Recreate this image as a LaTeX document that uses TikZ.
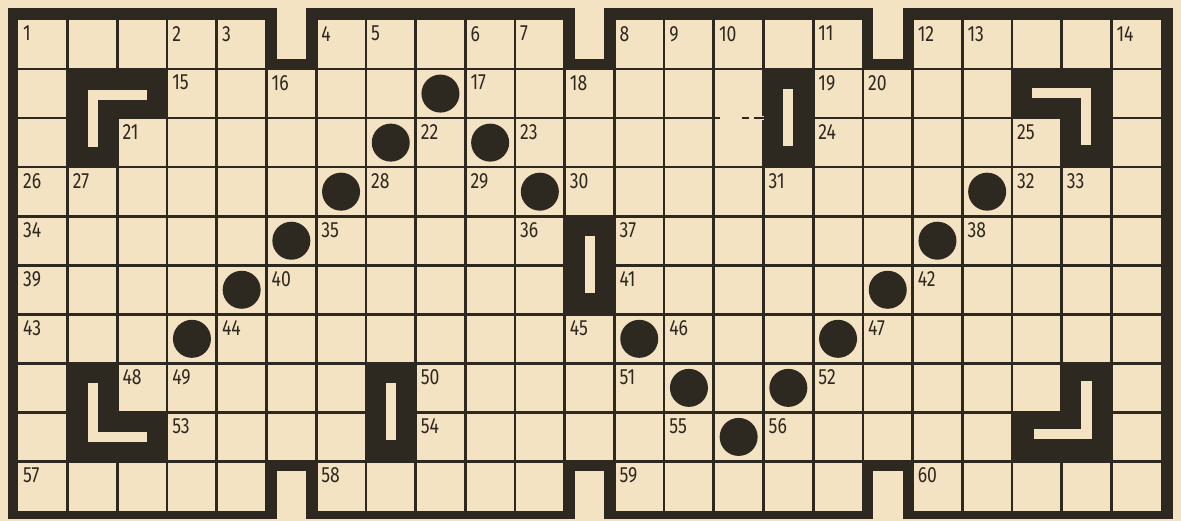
\documentclass[tikz,border=0pt]{standalone}
\usepackage{fontspec}
\newfontfamily\numfont[FakeStretch=0.8]{Fira Sans}
\definecolor{paper}{HTML}{F3E3C3}
\definecolor{ink}{HTML}{2D2820}
\tikzset{
  gridline/.style={draw=ink, line width=2.7pt},
  dot/.style={circle, fill=ink, minimum size=38pt, inner sep=0pt},
  num/.style={anchor=north west, inner sep=0pt, text=ink, font=\numfont\fontsize{22}{22}\selectfont},
}
\begin{document}
\begin{tikzpicture}[x=1pt,y=-1pt]
\fill[paper] (0,0) rectangle (1181,521);
\useasboundingbox (0,0) rectangle (1181,521);
\fill[ink] (8,8) rectangle (1173,519);
\begin{scope}[shift={(18pt,-20pt)},x=49.7pt,y=-49.05pt]
  \fill[paper] (0,0) rectangle (23,10);
  % grid
  \foreach \i in {1,...,22} \draw[gridline] (\i,0) -- (\i,10);
  \foreach \j in {1,...,9} \draw[gridline] (0,\j) -- (23,\j);
  % broken line segment
  \fill[paper] ([shift={(6pt,2pt)}]14,2) rectangle ([shift={(0pt,-2pt)}]15,2);
  \draw[gridline] ([xshift=28pt]14,2) -- ([xshift=35pt]14,2);
  \draw[gridline] ([xshift=40pt]14,2) -- ([xshift=49.7pt]14,2);
  % notches
  \foreach \c in {5,11,17} {
    \pgfmathtruncatemacro\cc{\c+1}
    \fill[ink] (\c,0) rectangle (\cc,1);
    \fill[ink] (\c,9) rectangle (\cc,10);
    \fill[paper] ([shift={(10pt,30pt)}]\c,0) rectangle ([shift={(-10pt,10pt)}]\cc,1);
    \fill[paper] ([shift={(10pt,-10pt)}]\c,9) rectangle ([shift={(-10pt,-30pt)}]\cc,10);
  }
  % corner blocks
  \fill[ink] (1,1) rectangle (3,2) (1,2) rectangle (2,3);
  \fill[paper] ([shift={(20pt,-21pt)}]1,1) rectangle ([shift={(30pt,20pt)}]1,3);
  \fill[paper] ([shift={(20pt,-21pt)}]1,1) rectangle ([shift={(-20pt,-31pt)}]3,1);
  \fill[ink] (20,1) rectangle (22,2) (21,2) rectangle (22,3);
  \fill[paper] ([shift={(20pt,-19pt)}]20,1) rectangle ([shift={(-20pt,-29pt)}]22,1);
  \fill[paper] ([shift={(-30pt,-19pt)}]22,1) rectangle ([shift={(-20pt,22pt)}]22,3);
  \fill[ink] (1,7) rectangle (2,9) (2,8) rectangle (3,9);
  \fill[paper] ([shift={(20pt,-20pt)}]1,7) rectangle ([shift={(30pt,19pt)}]1,9);
  \fill[paper] ([shift={(20pt,29pt)}]1,9) rectangle ([shift={(-20pt,19pt)}]3,9);
  \fill[ink] (21,7) rectangle (22,9) (20,8) rectangle (21,9);
  \fill[paper] ([shift={(-30pt,-18pt)}]22,7) rectangle ([shift={(-19pt,22pt)}]22,9);
  \fill[paper] ([shift={(22pt,32pt)}]20,9) rectangle ([shift={(-19pt,22pt)}]22,9);
  % bars
  \foreach \c/\r in {15/1, 11/4, 7/7} {
    \pgfmathtruncatemacro\rr{\r+2}
    \fill[ink] (\c,\r) rectangle ({\c+1},\rr);
    \fill[paper] ([shift={(-5pt,-20pt)}]\c+0.5,\r) rectangle ([shift={(5pt,21pt)}]\c+0.5,\rr);
  }
  % dots
  \foreach \c/\r [count=\k] in {8/1, 7/2, 9/2, 6/3, 10/3, 19/3, 5/4, 18/4, 4/5, 17/5, 3/6, 12/6, 16/6, 13/7, 15/7, 14/8}
    \node[dot] (d\k) at (\c+0.5,\r+0.5) {};
  % numbers
  \foreach \t/\c/\r in {1/0/0, 2/3/0, 3/4/0, 4/6/0, 5/7/0, 6/9/0, 7/10/0, 8/12/0, 9/13/0, 10/14/0, 11/16/0, 12/18/0, 13/19/0, 14/22/0,
    15/3/1, 16/5/1, 17/9/1, 18/11/1, 19/16/1, 20/17/1,
    21/2/2, 22/8/2, 23/10/2, 24/16/2, 25/20/2,
    26/0/3, 27/1/3, 28/7/3, 29/9/3, 30/11/3, 31/15/3, 32/20/3, 33/21/3,
    34/0/4, 35/6/4, 36/10/4, 37/12/4, 38/19/4,
    39/0/5, 40/5/5, 41/12/5, 42/18/5,
    43/0/6, 44/4/6, 45/11/6, 46/13/6, 47/17/6,
    48/2/7, 49/3/7, 50/8/7, 51/12/7, 52/16/7,
    53/3/8, 54/8/8, 55/13/8, 56/15/8,
    57/0/9, 58/6/9, 59/12/9, 60/18/9}
    \node[num] (n\t) at ([shift={(5pt,-6pt)}]\c,\r) {\t};
\end{scope}
\end{tikzpicture}
\end{document}
